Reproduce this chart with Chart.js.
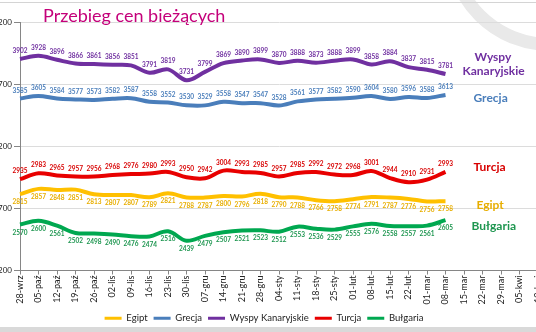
<!DOCTYPE html>
<html>
<head>
<meta charset="utf-8">
<script src="https://cdn.jsdelivr.net/npm/chart.js@4/dist/chart.umd.min.js"></script>
<style>
  html, body { margin: 0; padding: 0; background: #fff; }
  #wrap { position: relative; width: 536px; height: 332px; overflow: hidden; background: #fff; }
  #ring { position: absolute; left: 444px; top: -161px; width: 212px; height: 212px; border: 13px solid #e9e9e9; border-radius: 50%; box-sizing: border-box; }
  #topline { position: absolute; left: 0; top: 2px; width: 536px; height: 1px; background: #d4d4d4; }
  #bottomband { position: absolute; left: 0; top: 327px; width: 536px; height: 5px; background: #d9d9d9; }
  #title { position: absolute; left: 43px; top: 4px; font-family: Lato, sans-serif; font-size: 18px; color: #c4007a; white-space: nowrap; }
  #box { position: absolute; left: -10px; top: 0; width: 560px; height: 336px; }
</style>
</head>
<body>
<div id="wrap">
  <div id="ring"></div>
  <div id="topline"></div>
  <div id="bottomband"></div>
  <div id="box"><canvas id="chart"></canvas></div>
  <div id="title">Przebieg cen bieżących</div>
</div>
<script>
// tygodnie (oś X)
const weeks = ['28-wrz', '05-paź', '12-paź', '19-paź', '26-paź', '02-lis', '09-lis', '16-lis', '23-lis', '30-lis',
  '07-gru', '14-gru', '21-gru', '28-gru', '04-sty', '11-sty', '18-sty', '25-sty', '01-lut', '08-lut',
  '15-lut', '22-lut', '01-mar', '08-mar', '15-mar', '22-mar', '29-mar', '05-kwi', '12-kwi'];

// ceny
const egipt = [2815, 2857, 2848, 2851, 2813, 2807, 2807, 2789, 2821, 2788, 2787, 2800, 2796, 2818,
  2790, 2788, 2766, 2758, 2774, 2791, 2787, 2776, 2756, 2758];
const grecja = [3585, 3605, 3584, 3577, 3573, 3582, 3587, 3558, 3552, 3530, 3529, 3558, 3547, 3547,
  3528, 3561, 3577, 3582, 3590, 3604, 3580, 3596, 3588, 3613];
const wyspy = [3902, 3928, 3896, 3866, 3861, 3856, 3851, 3791, 3819, 3731, 3799, 3869, 3890, 3899,
  3870, 3888, 3873, 3888, 3899, 3858, 3884, 3837, 3815, 3781];
const turcja = [2935, 2983, 2965, 2957, 2956, 2968, 2976, 2980, 2993, 2950, 2942, 3004, 2993, 2985,
  2957, 2985, 2992, 2972, 2968, 3001, 2944, 2910, 2931, 2993];
const bulgaria = [2570, 2600, 2561, 2502, 2498, 2490, 2476, 2474, 2516, 2439, 2479, 2507, 2521, 2523,
  2512, 2553, 2536, 2529, 2555, 2576, 2558, 2557, 2561, 2605];

const yMin = 2200, yMax = 4200, yStep = 500;

function makeSet(label, data, color, labelColor, labelOffset, nameLines) {
  return {
    label: label,
    data: data,
    borderColor: color,
    backgroundColor: color,
    borderWidth: 4,
    pointRadius: 0,
    tension: 0.35,
    fill: false,
    labelColor: labelColor,
    labelOffset: labelOffset,
    nameLines: nameLines
  };
}

// wartości przy punktach
const valueLabels = {
  id: 'valueLabels',
  afterDatasetsDraw(chart) {
    const ctx = chart.ctx;
    ctx.save();
    ctx.font = 'bold 6.5px Lato';
    ctx.textAlign = 'center';
    ctx.textBaseline = 'middle';
    chart.data.datasets.forEach((ds, i) => {
      const meta = chart.getDatasetMeta(i);
      ctx.fillStyle = ds.labelColor;
      meta.data.forEach((pt, j) => {
        ctx.fillText(ds.data[j], pt.x, pt.y + ds.labelOffset);
      });
    });
    ctx.restore();
  }
};

// nazwy serii po prawej stronie
const seriesNames = {
  id: 'seriesNames',
  afterDatasetsDraw(chart) {
    const ctx = chart.ctx;
    ctx.save();
    ctx.font = 'bold 12px Lato';
    ctx.textAlign = 'left';
    ctx.textBaseline = 'middle';
    chart.data.datasets.forEach((ds, i) => {
      const meta = chart.getDatasetMeta(i);
      const last = meta.data[meta.data.length - 1];
      ctx.fillStyle = ds.labelColor;
      ds.nameLines.forEach(n => {
        ctx.fillText(n[0], last.x + 28 + n[1], last.y + n[2]);
      });
    });
    ctx.restore();
  }
};

const ctx = document.getElementById('chart').getContext('2d');
new Chart(ctx, {
  type: 'line',
  data: {
    labels: weeks,
    datasets: [
      makeSet('Egipt', egipt, '#FFC000', '#E8AE00', 8, [['Egipt', 3, 4]]),
      makeSet('Grecja', grecja, '#4A7EBB', '#4A7EBB', -8, [['Grecja', 0, 3]]),
      makeSet('Wyspy Kanaryjskie', wyspy, '#7030A0', '#7030A0', -8, [['Wyspy', 1, -17], ['Kanaryjskie', -11, -3]]),
      makeSet('Turcja', turcja, '#E80000', '#D80000', -8, [['Turcja', 0, -5]]),
      makeSet('Bułgaria', bulgaria, '#00A850', '#1E9650', 8, [['Bułgaria', -2, 6]])
    ]
  },
  options: {
    responsive: true,
    maintainAspectRatio: false,
    animation: false,
    layout: { padding: { top: 22, right: 12, bottom: 3, left: 0 } },
    plugins: {
      title: { display: false },
      tooltip: { enabled: false },
      legend: {
        position: 'bottom',
        labels: {
          usePointStyle: true,
          pointStyle: 'line',
          pointStyleWidth: 17,
          boxHeight: 9,
          padding: 6,
          color: '#222',
          font: { family: 'Lato', size: 9.5 },
          generateLabels: function (chart) {
            return Chart.defaults.plugins.legend.labels.generateLabels(chart).map(l => {
              l.lineWidth = 3;
              return l;
            });
          }
        }
      }
    },
    scales: {
      x: {
        offset: false,
        grid: { drawOnChartArea: false, drawTicks: true, tickLength: 4, tickColor: '#868686' },
        border: { color: '#868686' },
        ticks: {
          autoSkip: false,
          minRotation: 90,
          maxRotation: 90,
          padding: 1,
          color: '#222',
          font: { family: 'Lato', size: 9 }
        },
        afterFit: function (s) { s.height = 37; }
      },
      y: {
        min: yMin,
        max: yMax,
        grid: { color: '#dcdcdc', tickColor: '#868686', tickLength: 6 },
        border: { color: '#868686' },
        ticks: {
          stepSize: yStep,
          padding: 2,
          color: '#222',
          font: { family: 'Lato', size: 8 }
        },
        afterFit: function (s) { s.width = 30; }
      }
    }
  },
  plugins: [valueLabels, seriesNames]
});
</script>
</body>
</html>
